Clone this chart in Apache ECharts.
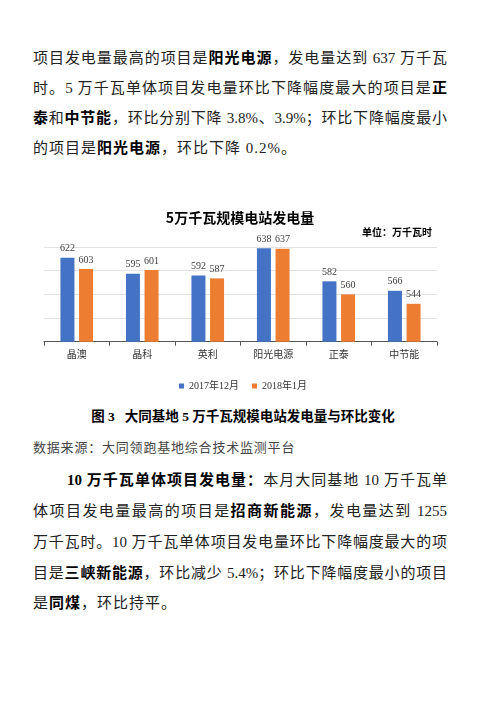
<!DOCTYPE html>
<html lang="zh-CN"><head><meta charset="utf-8">
<script src="https://cdn.jsdelivr.net/npm/echarts@6/dist/echarts.min.js"></script>
<style>
html,body{margin:0;padding:0;background:#fff;width:486px;height:707px;overflow:hidden;position:relative}
#chart{position:absolute;left:0;top:195px;width:486px;height:200px}
.ln{position:absolute;left:33px;width:414px;font-family:"Liberation Serif","Noto Sans CJK SC",serif;font-size:15px;color:#222;text-align:justify;text-align-last:justify;line-height:20px;height:20px;z-index:2}
.ln.last{text-align:left;text-align-last:left;letter-spacing:1px}
.ln b{font-weight:bold;color:#000}
.cap{position:absolute;left:0;width:486px;text-align:center;font-family:"Liberation Serif","Noto Sans CJK SC",serif;font-weight:bold;font-size:13.5px;color:#000;line-height:20px;height:20px}
.src{position:absolute;left:33px;font-family:"Liberation Serif","Noto Sans CJK SC",serif;font-size:13px;letter-spacing:0.8px;color:#444;line-height:20px;height:20px}
</style></head>
<body>
<div class="ln" style="top:48px">项目发电量最高的项目是<b>阳光电源</b>，发电量达到 637 万千瓦</div>
<div class="ln" style="top:78px">时。5 万千瓦单体项目发电量环比下降幅度最大的项目是<b>正</b></div>
<div class="ln" style="top:108px"><b>泰</b>和<b>中节能</b>，环比分别下降 3.8%、3.9%；环比下降幅度最小</div>
<div class="ln last" style="top:138px">的项目是<b>阳光电源</b>，环比下降 0.2%。</div>
<div id="chart"></div>
<div class="cap" style="top:407px">图 3&nbsp;&nbsp;&nbsp;大同基地 5 万千瓦规模电站发电量与环比变化</div>
<div class="src" style="top:438px">数据来源：大同领跑基地综合技术监测平台</div>
<div class="ln" style="top:470px;left:67px;width:380px"><b>10 万千瓦单体项目发电量：</b>本月大同基地 10 万千瓦单</div>
<div class="ln" style="top:501px">体项目发电量最高的项目是<b>招商新能源</b>，发电量达到 1255</div>
<div class="ln" style="top:532px">万千瓦时。10 万千瓦单体项目发电量环比下降幅度最大的项</div>
<div class="ln" style="top:563px">目是<b>三峡新能源</b>，环比减少 5.4%；环比下降幅度最小的项目</div>
<div class="ln last" style="top:593px">是<b>同煤</b>，环比持平。</div>
<script>
const categories = ['晶澳', '晶科', '英利', '阳光电源', '正泰', '中节能'];
const seriesNames = ['2017年12月', '2018年1月'];
const dec2017 = [622, 595, 592, 638, 582, 566];
const jan2018 = [603, 601, 587, 637, 560, 544];
const yMin = 480, yMax = 640, yInterval = 40;
const chartTitle = '5万千瓦规模电站发电量';
const unitText = '单位：万千瓦时';

const chart = echarts.init(document.getElementById('chart'));
const labelStyle = {show: true, position: 'top', distance: 4, fontSize: 10, fontFamily: 'Liberation Serif', color: '#404040'};
chart.setOption({
  animation: false,
  graphic: [
    {type: 'text', x: 240, y: 23, style: {text: chartTitle, textAlign: 'center', textVerticalAlign: 'middle', font: 'bold 14px "Noto Sans CJK SC"', fill: '#000'}},
    {type: 'text', x: 432, y: 37, style: {text: unitText, textAlign: 'right', textVerticalAlign: 'middle', font: 'bold 10px "Noto Sans CJK SC"', fill: '#000'}}
  ],
  legend: {
    data: seriesNames, top: 181, left: 'center', icon: 'rect', itemWidth: 5, itemHeight: 5, itemGap: 13,
    textStyle: {fontSize: 10, fontFamily: 'Liberation Serif, Noto Sans CJK SC', color: '#333'}
  },
  grid: {left: 44, right: 49, top: 52, bottom: 53.3, containLabel: false},
  xAxis: {
    type: 'category', data: categories,
    axisLine: {lineStyle: {color: '#555', width: 1}},
    axisTick: {show: true, length: 4, lineStyle: {color: '#555'}},
    axisLabel: {margin: 8, fontSize: 10, color: '#333', fontFamily: 'Noto Sans CJK SC'}
  },
  yAxis: {
    type: 'value', min: yMin, max: yMax, interval: yInterval,
    axisLabel: {show: false}, axisLine: {show: false}, axisTick: {show: false},
    splitLine: {lineStyle: {color: '#e2e2e2', width: 1}}
  },
  series: [
    {name: seriesNames[0], type: 'bar', data: dec2017, barWidth: 14, barGap: '33%', itemStyle: {color: '#4472C4'}, label: labelStyle},
    {name: seriesNames[1], type: 'bar', data: jan2018, barWidth: 14, barGap: '33%', itemStyle: {color: '#ED7D31'}, label: labelStyle}
  ]
});
</script>
</body></html>
